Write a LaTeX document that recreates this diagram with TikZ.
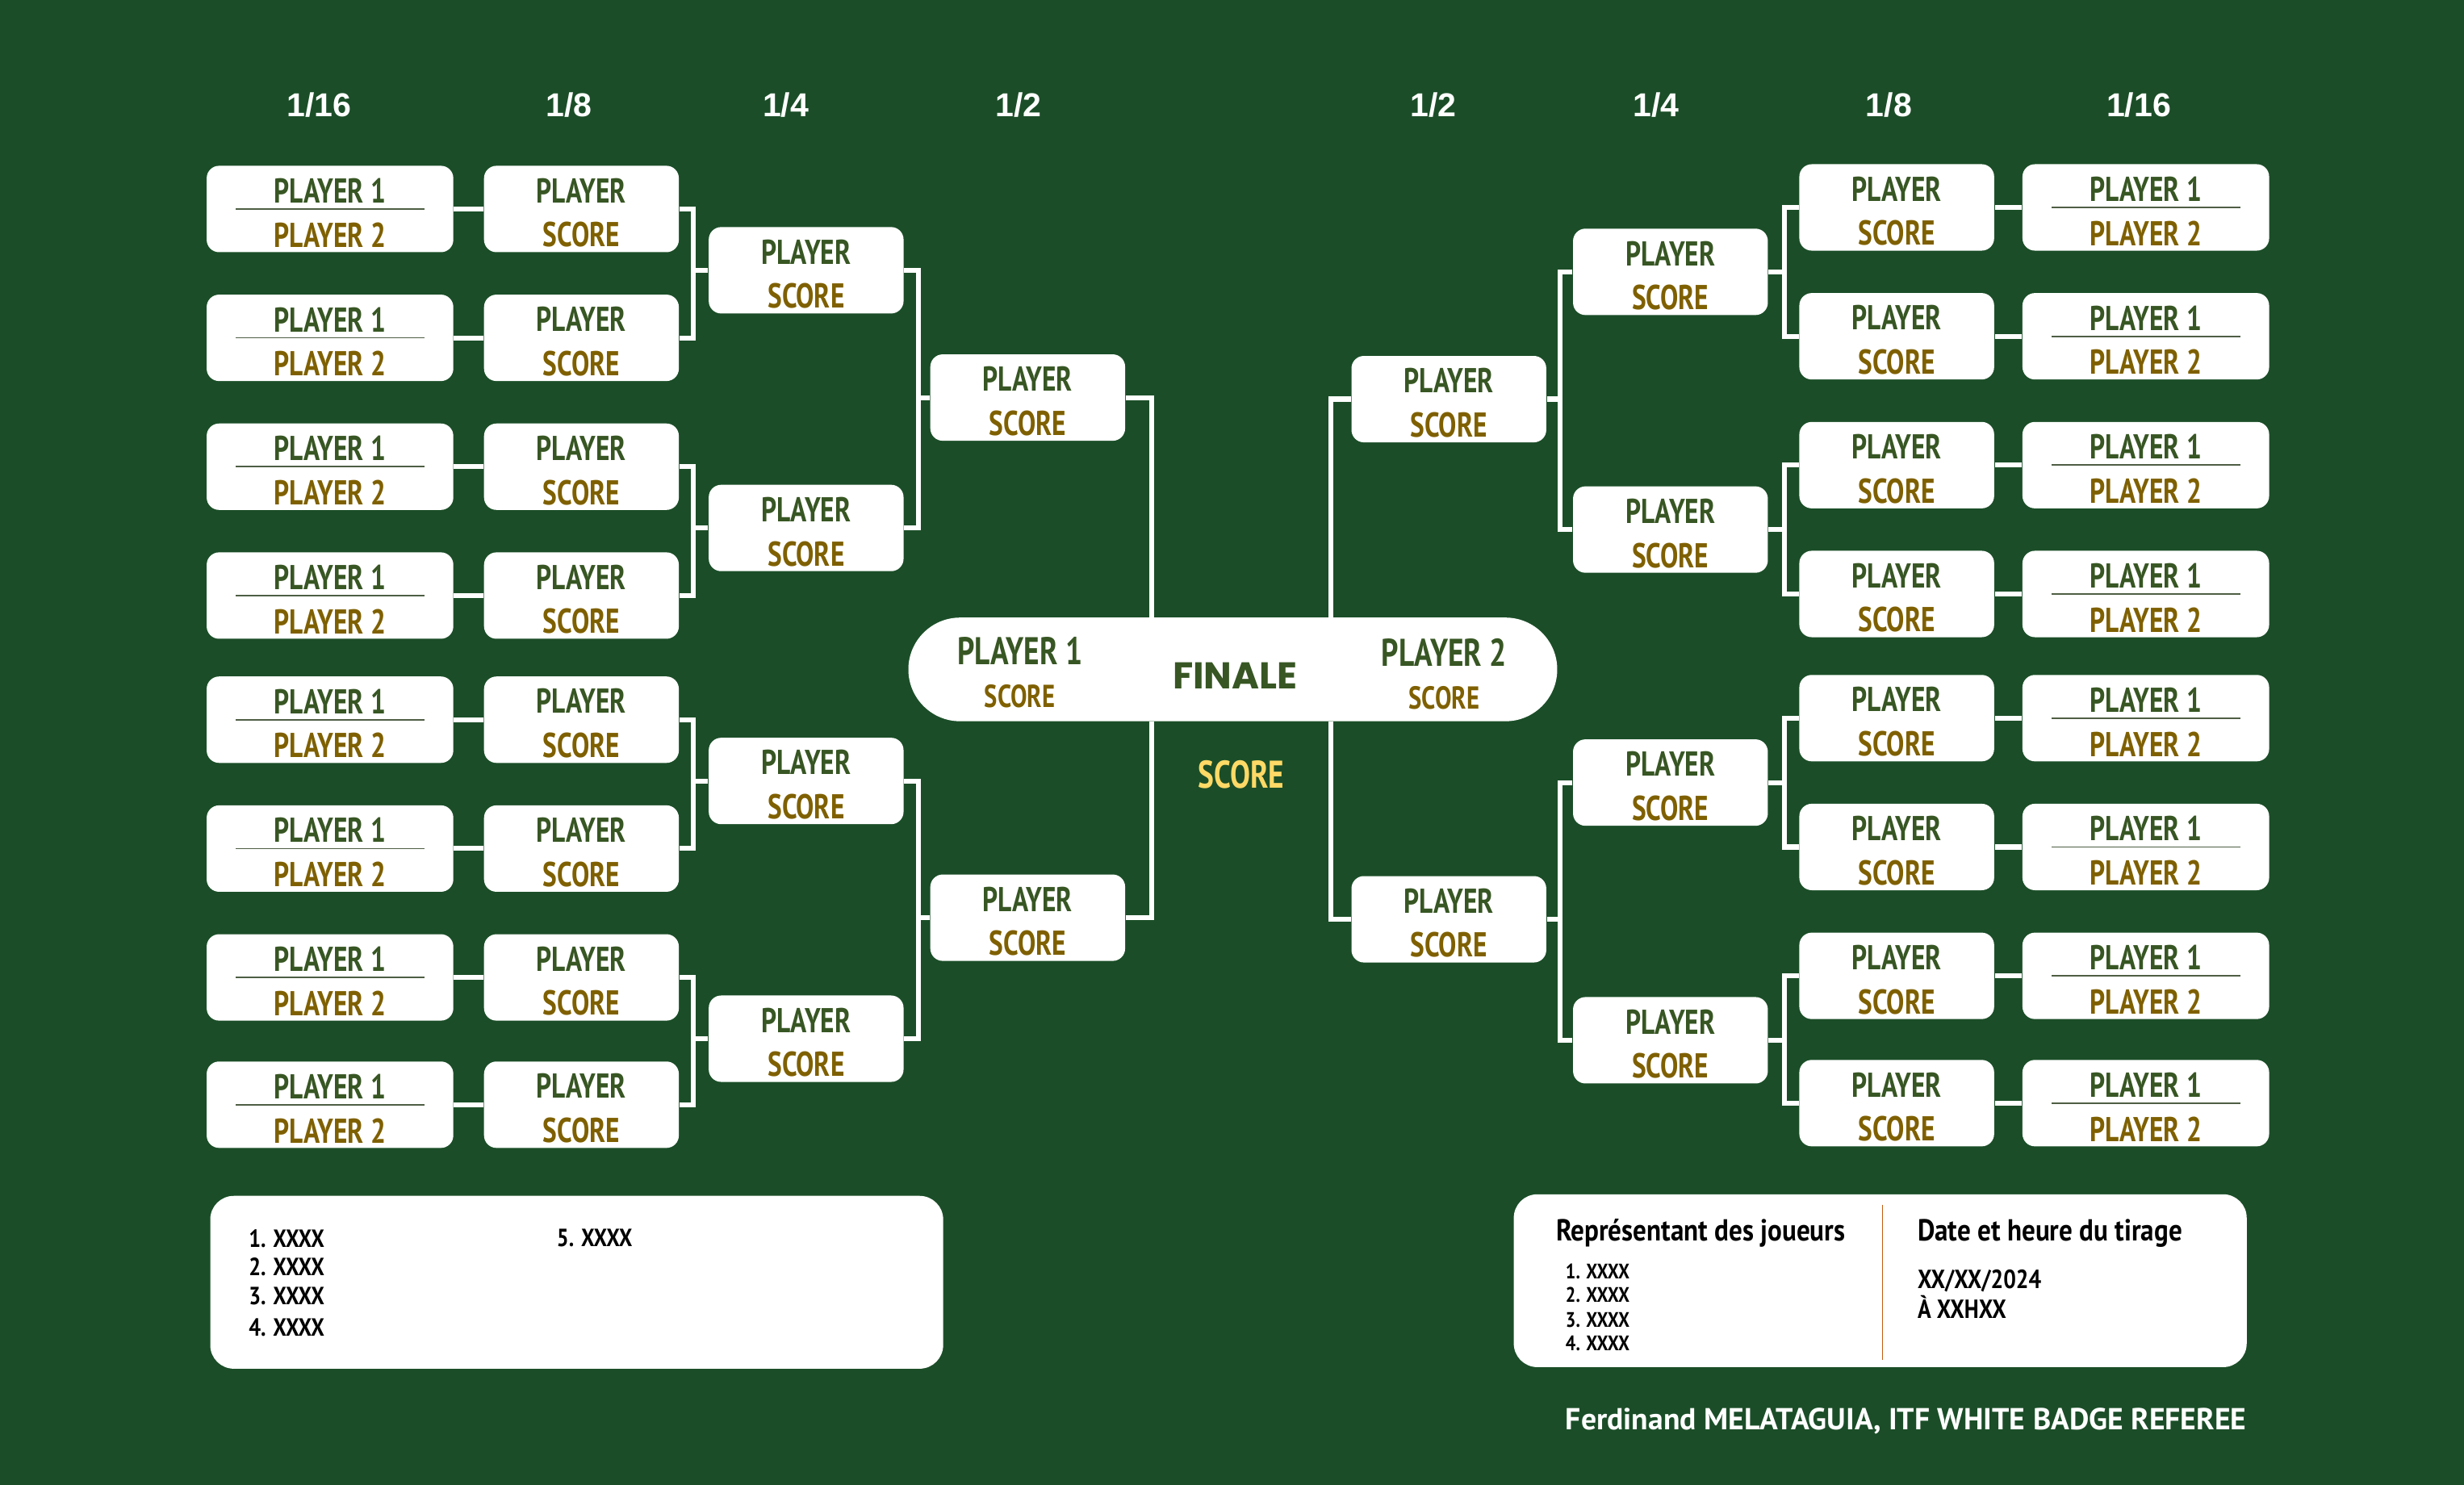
\documentclass[tikz,border=0pt]{standalone}
\usepackage{fontspec}
\setmainfont{PT Sans}
\newfontfamily\dinfont[FakeStretch=0.78]{PT Sans}
\newfontfamily\listfont[FakeStretch=0.85]{PT Sans}
\newfontfamily\titlefont[FakeStretch=0.88]{PT Sans}
\newfontfamily\headfont{Liberation Sans}
\newfontfamily\finfont{Poppins}

\definecolor{bgreen}{HTML}{1B4E28}
\definecolor{pgreen}{HTML}{375623}
\definecolor{pgold}{HTML}{7F6000}
\definecolor{pyellow}{HTML}{FFD966}
\definecolor{sepline}{HTML}{4E5E44}
\definecolor{divline}{HTML}{C55A11}

\newcommand{\duelt}{\rule{0pt}{11.6pt}\textcolor{pgreen}{PLAYER 1}\\\textcolor{pgold}{PLAYER 2}}
\newcommand{\wint}{\rule{0pt}{11.6pt}\textcolor{pgreen}{PLAYER}\\\textcolor{pgold}{SCORE}}

\tikzset{
  wire/.style={draw=white, line width=1.8pt},
  duel/.style={fill=white, rounded corners=4.5pt, minimum width=3.14cm, minimum height=1.1cm,
    inner sep=0pt, align=center, font=\dinfont\bfseries\fontsize{12.5}{16}\selectfont,
    path picture={\draw[sepline, line width=0.5pt] ([xshift=-1.2cm]path picture bounding box.center)
      -- ([xshift=1.2cm]path picture bounding box.center);}},
  winner/.style={fill=white, rounded corners=4.5pt, minimum width=2.48cm, minimum height=1.1cm,
    inner sep=0pt, align=center, font=\dinfont\bfseries\fontsize{12.5}{16}\selectfont},
  roundlbl/.style={text=white, font=\headfont\bfseries\fontsize{12}{14}\selectfont},
  pill/.style={fill=white, rounded corners=0.66cm, minimum width=8.26cm, minimum height=1.32cm},
  infobox/.style={fill=white, rounded corners=0.3cm, minimum width=9.33cm, minimum height=2.2cm},
  listtxt/.style={anchor=west, inner sep=0pt, text=black, font=\listfont\bfseries\fontsize{9}{11}\selectfont},
  smalltxt/.style={anchor=base west, inner sep=0pt, text=black, font=\listfont\bfseries\fontsize{7.6}{9}\selectfont},
  headtxt/.style={anchor=base west, inner sep=0pt, text=black, font=\titlefont\bfseries\fontsize{11}{13}\selectfont},
}

\begin{document}
\begin{tikzpicture}[x=0.02cm, y=-0.02cm]
  \fill[bgreen] (0,0) rectangle (1568,945);

  % round titles
  \node[roundlbl] (t16l) at (203,67) {1/16};
  \node[roundlbl] (t8l) at (362,67) {1/8};
  \node[roundlbl] (t4l) at (500,67) {1/4};
  \node[roundlbl] (t2l) at (648,67) {1/2};
  \node[roundlbl] (t2r) at (912,67) {1/2};
  \node[roundlbl] (t4r) at (1054,67) {1/4};
  \node[roundlbl] (t8r) at (1202,67) {1/8};
  \node[roundlbl] (t16r) at (1361,67) {1/16};

  % left half
  \node[duel] (l16a) at (210,133) {\duelt};
  \node[duel] (l16b) at (210,215) {\duelt};
  \node[duel] (l16c) at (210,297) {\duelt};
  \node[duel] (l16d) at (210,379) {\duelt};
  \node[duel] (l16e) at (210,458) {\duelt};
  \node[duel] (l16f) at (210,540) {\duelt};
  \node[duel] (l16g) at (210,622) {\duelt};
  \node[duel] (l16h) at (210,703) {\duelt};
  \node[winner] (l8a) at (370,133) {\wint};
  \node[winner] (l8b) at (370,215) {\wint};
  \node[winner] (l8c) at (370,297) {\wint};
  \node[winner] (l8d) at (370,379) {\wint};
  \node[winner] (l8e) at (370,458) {\wint};
  \node[winner] (l8f) at (370,540) {\wint};
  \node[winner] (l8g) at (370,622) {\wint};
  \node[winner] (l8h) at (370,703) {\wint};
  \node[winner] (l4a) at (513,172) {\wint};
  \node[winner] (l4b) at (513,336) {\wint};
  \node[winner] (l4c) at (513,497) {\wint};
  \node[winner] (l4d) at (513,661) {\wint};
  \node[winner] (l2a) at (654,253) {\wint};
  \node[winner] (l2b) at (654,584) {\wint};

  % right half
  \node[duel] (r16a) at (1365.5,132) {\duelt};
  \node[duel] (r16b) at (1365.5,214) {\duelt};
  \node[duel] (r16c) at (1365.5,296) {\duelt};
  \node[duel] (r16d) at (1365.5,378) {\duelt};
  \node[duel] (r16e) at (1365.5,457) {\duelt};
  \node[duel] (r16f) at (1365.5,539) {\duelt};
  \node[duel] (r16g) at (1365.5,621) {\duelt};
  \node[duel] (r16h) at (1365.5,702) {\duelt};
  \node[winner] (r8a) at (1207,132) {\wint};
  \node[winner] (r8b) at (1207,214) {\wint};
  \node[winner] (r8c) at (1207,296) {\wint};
  \node[winner] (r8d) at (1207,378) {\wint};
  \node[winner] (r8e) at (1207,457) {\wint};
  \node[winner] (r8f) at (1207,539) {\wint};
  \node[winner] (r8g) at (1207,621) {\wint};
  \node[winner] (r8h) at (1207,702) {\wint};
  \node[winner] (r4a) at (1063,173) {\wint};
  \node[winner] (r4b) at (1063,337) {\wint};
  \node[winner] (r4c) at (1063,498) {\wint};
  \node[winner] (r4d) at (1063,662) {\wint};
  \node[winner] (r2a) at (922,254) {\wint};
  \node[winner] (r2b) at (922,585) {\wint};

  % final
  \node[pill] (fin) at (784.5,426) {};
  \node[text=pgreen, font=\finfont\bfseries\fontsize{13.5}{15}\selectfont] (finlbl) at (786,430) {FINALE};
  \node[text=pgreen, font=\dinfont\bfseries\fontsize{14}{16}\selectfont] (fp1) at (649,414) {PLAYER 1};
  \node[text=pgold, font=\dinfont\bfseries\fontsize{11.5}{13}\selectfont] (fs1) at (649,443) {SCORE};
  \node[text=pgreen, font=\dinfont\bfseries\fontsize{14}{16}\selectfont] (fp2) at (919,415) {PLAYER 2};
  \node[text=pgold, font=\dinfont\bfseries\fontsize{11.5}{13}\selectfont] (fs2) at (919,444) {SCORE};
  \node[text=pyellow, font=\dinfont\bfseries\fontsize{14}{16}\selectfont] (fscore) at (790,493) {SCORE};

  % connectors, left
  \draw[wire] (l16a.east) -- (l8a.west);
  \draw[wire] (l16b.east) -- (l8b.west);
  \draw[wire] (l16c.east) -- (l8c.west);
  \draw[wire] (l16d.east) -- (l8d.west);
  \draw[wire] (l16e.east) -- (l8e.west);
  \draw[wire] (l16f.east) -- (l8f.west);
  \draw[wire] (l16g.east) -- (l8g.west);
  \draw[wire] (l16h.east) -- (l8h.west);
  \draw[wire] (l8a.east) -- ++(9,0) |- (l8b.east);
  \draw[wire] (l8c.east) -- ++(9,0) |- (l8d.east);
  \draw[wire] (l8e.east) -- ++(9,0) |- (l8f.east);
  \draw[wire] (l8g.east) -- ++(9,0) |- (l8h.east);
  \draw[wire] (l4a.west) -- ++(-10,0);
  \draw[wire] (l4b.west) -- ++(-10,0);
  \draw[wire] (l4c.west) -- ++(-10,0);
  \draw[wire] (l4d.west) -- ++(-10,0);
  \draw[wire] (l4a.east) -- ++(9,0) |- (l4b.east);
  \draw[wire] (l4c.east) -- ++(9,0) |- (l4d.east);
  \draw[wire] (l2a.west) -- ++(-8,0);
  \draw[wire] (l2b.west) -- ++(-8,0);
  \draw[wire] (l2a.east) -| ([xshift=-1.03cm]fin.north);
  \draw[wire] (l2b.east) -| ([xshift=-1.03cm]fin.south);

  % connectors, right
  \draw[wire] (r16a.west) -- (r8a.east);
  \draw[wire] (r16b.west) -- (r8b.east);
  \draw[wire] (r16c.west) -- (r8c.east);
  \draw[wire] (r16d.west) -- (r8d.east);
  \draw[wire] (r16e.west) -- (r8e.east);
  \draw[wire] (r16f.west) -- (r8f.east);
  \draw[wire] (r16g.west) -- (r8g.east);
  \draw[wire] (r16h.west) -- (r8h.east);
  \draw[wire] (r8a.west) -- ++(-9,0) |- (r8b.west);
  \draw[wire] (r8c.west) -- ++(-9,0) |- (r8d.west);
  \draw[wire] (r8e.west) -- ++(-9,0) |- (r8f.west);
  \draw[wire] (r8g.west) -- ++(-9,0) |- (r8h.west);
  \draw[wire] (r4a.east) -- ++(11,0);
  \draw[wire] (r4b.east) -- ++(11,0);
  \draw[wire] (r4c.east) -- ++(11,0);
  \draw[wire] (r4d.east) -- ++(11,0);
  \draw[wire] (r4a.west) -- ++(-8,0) |- (r4b.west);
  \draw[wire] (r4c.west) -- ++(-8,0) |- (r4d.west);
  \draw[wire] (r2a.east) -- ++(9,0);
  \draw[wire] (r2b.east) -- ++(9,0);
  \draw[wire] (r2a.west) -| ([xshift=1.25cm]fin.north);
  \draw[wire] (r2b.west) -| ([xshift=1.25cm]fin.south);

  % notes box
  \node[infobox] (notes) at (367,816) {};
  \node[listtxt] (n1) at (158,788) {1. XXXX};
  \node[listtxt] (n2) at (158,806) {2. XXXX};
  \node[listtxt] (n3) at (158,825) {3. XXXX};
  \node[listtxt] (n4) at (158,845) {4. XXXX};
  \node[listtxt] (n5) at (354,788) {5. XXXX};

  % draw info box
  \node[infobox] (tirage) at (1196.5,815) {};
  \draw[divline, line width=0.5pt] ([xshift=0.03cm, yshift=-0.14cm]tirage.north) -- ([xshift=0.03cm, yshift=0.1cm]tirage.south);
  \node[headtxt] (rep) at (990,789.5) {Représentant des joueurs};
  \node[smalltxt] (rep1) at (996,813.7) {1. XXXX};
  \node[smalltxt] (rep2) at (996,828.7) {2. XXXX};
  \node[smalltxt] (rep3) at (996,844.7) {3. XXXX};
  \node[smalltxt] (rep4) at (996,859.7) {4. XXXX};
  \node[headtxt] (date) at (1220,789.5) {Date et heure du tirage};
  \node[anchor=base west, inner sep=0pt, font=\listfont\bfseries\fontsize{9.5}{11}\selectfont] (day) at (1220,820) {XX/XX/2024};
  \node[anchor=base west, inner sep=0pt, font=\listfont\bfseries\fontsize{9.5}{11}\selectfont] (hour) at (1220,839) {À XXHXX};

  \node[anchor=base west, inner sep=0pt, text=white, font=\bfseries\fontsize{11}{13}\selectfont] (sign) at (996,910) {Ferdinand MELATAGUIA, ITF WHITE BADGE REFEREE};
\end{tikzpicture}
\end{document}
